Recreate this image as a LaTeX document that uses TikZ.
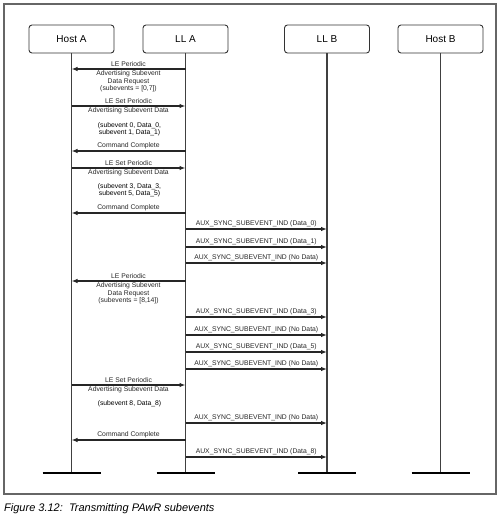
\documentclass[tikz,border=0pt]{standalone}
\usepackage{fontspec}
\setmainfont{Liberation Sans}
\usetikzlibrary{arrows.meta}

\begin{document}
\begin{tikzpicture}[x=1pt, y=-1pt, font=\fontsize{6.8}{7.5}\selectfont, >={Latex[length=6pt,width=4.5pt]}]
	\tikzstyle{entity}=[draw=black!80, line width=0.9pt, rounded corners=3pt, minimum width=85pt, minimum height=28pt, font=\fontsize{10}{12}\selectfont]
	\tikzstyle{life}=[draw=black!75, line width=1.4pt]
	\tikzstyle{ground}=[line width=2.8pt]
	\tikzstyle{msg}=[->, line width=1.1pt, black!85]
	\tikzstyle{lbl}=[inner sep=1.5pt, align=center]
	\useasboundingbox (0,0) rectangle (500,518);
	\draw[black!60, line width=1.1pt] (4,4) rectangle (496,494);
	\node[entity] (hA) at (71.5,39) {Host A};
	\node[entity] (lA) at (185.5,39) {LL A};
	\node[entity] (lB) at (327,39) {LL B};
	\node[entity] (hB) at (440.5,39) {Host B};
	\foreach \e in {hA,lA,lB,hB}{
		\coordinate (\e end) at (\e |- 0,473);
		\draw[life] (\e.south) -- (\e end);
		\draw[ground] ([xshift=-29pt]\e end) -- ([xshift=29pt]\e end);
	}
	% Host A <-> LL A
	\draw[msg] (lA |- 0,69) -- node[lbl, above] {LE Periodic} node[lbl, below] {Advertising Subevent\\Data Request\\(subevents = [0,7])} (hA |- 0,69);
	\draw[msg] (hA |- 0,106) -- node[lbl, above] {LE Set Periodic} node[lbl, below] {Advertising Subevent Data} (lA |- 0,106);
	\node[lbl] (d1) at (129.5,129) {(subevent 0, Data\_0,\\subevent 1, Data\_1)};
	\draw[msg] (lA |- 0,151) -- node[lbl, above] {Command Complete} (hA |- 0,151);
	\draw[msg] (hA |- 0,168) -- node[lbl, above] {LE Set Periodic} node[lbl, below] {Advertising Subevent Data} (lA |- 0,168);
	\node[lbl] (d2) at (129.5,190) {(subevent 3, Data\_3,\\subevent 5, Data\_5)};
	\draw[msg] (lA |- 0,213) -- node[lbl, above] {Command Complete} (hA |- 0,213);
	\draw[msg] (lA |- 0,281) -- node[lbl, above] {LE Periodic} node[lbl, below] {Advertising Subevent\\Data Request\\(subevents = [8,14])} (hA |- 0,281);
	\draw[msg] (hA |- 0,385) -- node[lbl, above] {LE Set Periodic} node[lbl, below] {Advertising Subevent Data} (lA |- 0,385);
	\node[lbl] (d3) at (129.5,404) {(subevent 8, Data\_8)};
	\draw[msg] (lA |- 0,440) -- node[lbl, above] {Command Complete} (hA |- 0,440);
	% LL A -> LL B
	\foreach \y/\d in {229/Data\_0, 247/Data\_1, 263/No Data, 317/Data\_3, 335/No Data, 352/Data\_5, 369/No Data, 423/No Data, 457/Data\_8}
		\draw[msg] (lA |- 0,\y) -- node[lbl, above] {AUX\_SYNC\_SUBEVENT\_IND (\d)} (lB |- 0,\y);
	\node[anchor=west, inner sep=0pt, font=\fontsize{11}{13}\selectfont\itshape] (cap) at (4,509) {Figure 3.12:\ \ Transmitting PAwR subevents};
\end{tikzpicture}
\end{document}
